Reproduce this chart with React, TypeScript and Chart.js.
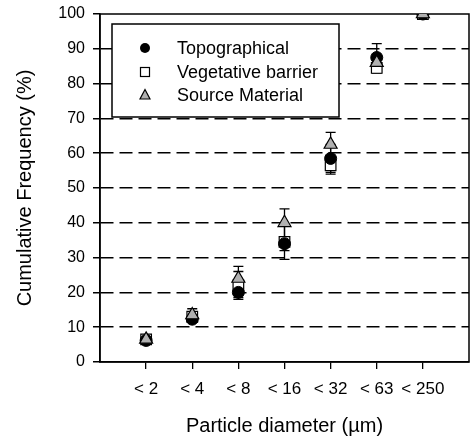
import React, { useEffect, useRef } from "react";
import { Chart, registerables } from "chart.js";

Chart.register(...registerables);

const categories = ["< 2", "< 4", "< 8", "< 16", "< 32", "< 63", "< 250"];
const seriesLabels = ["Topographical", "Vegetative barrier", "Source Material"];
const topographical = [6.2, 12.3, 20, 34, 58.5, 87.5, 100];
const topographicalErr = [0.5, 0.8, 1.5, 2, 4, 4, 0];
const vegetative = [6.5, 13, 22, 34.5, 56.5, 84.5, 100];
const vegetativeErr = [0.5, 1.2, 4, 5, 2.5, 1.5, 0];
const sourceMaterial = [6.5, 13.5, 24, 40, 62.5, 86, 100];
const sourceMaterialErr = [0.5, 1.8, 3.5, 4, 3.5, 1.5, 0];
const yMin = 0;
const yMax = 100;
const yStep = 10;

const FONT = "'Liberation Sans', Arial, Helvetica, sans-serif";
const TRI_FILL = "#b0b0b0";

const toPoints = (vals: number[]) => vals.map((v, i) => ({ x: i + 1, y: v }));

const errorBarPlugin = {
  id: "errorBars",
  beforeDatasetsDraw(chart: any) {
    const ctx = chart.ctx;
    const yScale = chart.scales.y;
    ctx.save();
    ctx.strokeStyle = "#000";
    ctx.lineWidth = 1.3;
    chart.data.datasets.forEach((ds: any, di: number) => {
      const meta = chart.getDatasetMeta(di);
      const errs: number[] = ds.errors || [];
      meta.data.forEach((pt: any, j: number) => {
        const e = errs[j];
        if (!e) return;
        const v = ds.data[j].y;
        const yTop = yScale.getPixelForValue(v + e);
        const yBot = yScale.getPixelForValue(v - e);
        const x = pt.x;
        ctx.beginPath();
        ctx.moveTo(x, yTop);
        ctx.lineTo(x, yBot);
        ctx.moveTo(x - 5, yTop);
        ctx.lineTo(x + 5, yTop);
        ctx.moveTo(x - 5, yBot);
        ctx.lineTo(x + 5, yBot);
        ctx.stroke();
      });
    });
    ctx.restore();
  },
};

const framePlugin = {
  id: "frame",
  beforeDatasetsDraw(chart: any) {
    const { ctx, chartArea } = chart;
    ctx.save();
    ctx.strokeStyle = "#000";
    ctx.lineWidth = 1.5;
    ctx.strokeRect(chartArea.left, chartArea.top, chartArea.right - chartArea.left, chartArea.bottom - chartArea.top);
    ctx.restore();
  },
};

const legendPlugin = {
  id: "boxLegend",
  afterDraw(chart: any) {
    const { ctx, chartArea } = chart;
    const left = chartArea.left + 12;
    const top = chartArea.top + 10;
    const w = 227;
    const h = 93;
    ctx.save();
    ctx.fillStyle = "#fff";
    ctx.fillRect(left, top, w, h);
    ctx.strokeStyle = "#000";
    ctx.lineWidth = 1.5;
    ctx.strokeRect(left, top, w, h);
    const mx = left + 33;
    const tx = left + 65;
    const rows = [top + 24, top + 48, top + 71];
    ctx.font = `18px ${FONT}`;
    ctx.textBaseline = "middle";
    ctx.textAlign = "left";
    rows.forEach((ry, i) => {
      ctx.lineWidth = 1.2;
      ctx.strokeStyle = "#000";
      if (i === 0) {
        ctx.fillStyle = "#000";
        ctx.beginPath();
        ctx.arc(mx, ry, 5, 0, Math.PI * 2);
        ctx.fill();
      } else if (i === 1) {
        ctx.fillStyle = "#fff";
        ctx.fillRect(mx - 4.5, ry - 4.5, 9, 9);
        ctx.strokeRect(mx - 4.5, ry - 4.5, 9, 9);
      } else {
        ctx.fillStyle = TRI_FILL;
        ctx.beginPath();
        ctx.moveTo(mx, ry - 5.5);
        ctx.lineTo(mx + 5, ry + 4);
        ctx.lineTo(mx - 5, ry + 4);
        ctx.closePath();
        ctx.fill();
        ctx.stroke();
      }
      ctx.fillStyle = "#000";
      ctx.fillText(seriesLabels[i], tx, ry + 1);
    });
    ctx.restore();
  },
};

export default function App() {
  const ref = useRef<HTMLCanvasElement>(null);
  useEffect(() => {
    document.body.style.margin = "0";
    const chart = new Chart(ref.current as HTMLCanvasElement, {
      type: "scatter",
      data: {
        datasets: [
          {
            label: seriesLabels[2],
            data: toPoints(sourceMaterial),
            errors: sourceMaterialErr,
            pointStyle: "triangle",
            pointRadius: 7.5,
            backgroundColor: TRI_FILL,
            borderColor: "#000",
            borderWidth: 1.2,
            order: 0,
          } as any,
          {
            label: seriesLabels[0],
            data: toPoints(topographical),
            errors: topographicalErr,
            pointStyle: "circle",
            pointRadius: 6,
            backgroundColor: "#000",
            borderColor: "#000",
            borderWidth: 1,
            order: 1,
          } as any,
          {
            label: seriesLabels[1],
            data: toPoints(vegetative),
            errors: vegetativeErr,
            pointStyle: "rect",
            pointRadius: 7.5,
            backgroundColor: "#fff",
            borderColor: "#000",
            borderWidth: 1.2,
            order: 2,
          } as any,
        ],
      },
      options: {
        responsive: false,
        animation: false,
        events: [],
        layout: { autoPadding: false, padding: { top: 14, right: 2, left: 0, bottom: 0 } },
        plugins: {
          legend: { display: false },
          tooltip: { enabled: false },
        },
        scales: {
          x: {
            type: "linear",
            min: 0,
            max: categories.length + 1,
            afterBuildTicks: (scale: any) => {
              scale.ticks = categories.map((_, i) => ({ value: i + 1 }));
            },
            afterFit: (scale: any) => {
              scale.height = 82;
              scale.paddingLeft = 0;
              scale.paddingRight = 0;
            },
            ticks: {
              autoSkip: false,
              maxRotation: 0,
              padding: 10,
              color: "#000",
              font: { family: FONT, size: 17 },
              callback: (v: any) => categories[Math.round(Number(v)) - 1] ?? "",
            },
            grid: { drawOnChartArea: false, drawTicks: true, tickLength: 7, color: "#000", lineWidth: 1.3 },
            border: { display: true, color: "#000", width: 1.5 },
            title: {
              display: true,
              text: "Particle diameter (µm)",
              color: "#000",
              font: { family: FONT, size: 20 },
              padding: { top: 0, bottom: 6 },
            },
          },
          y: {
            type: "linear",
            min: yMin,
            max: yMax,
            afterFit: (scale: any) => {
              scale.width = 100;
              scale.paddingTop = 0;
              scale.paddingBottom = 0;
            },
            ticks: {
              stepSize: yStep,
              padding: 8,
              color: "#000",
              font: { family: FONT, size: 16 },
            },
            grid: {
              drawTicks: true,
              tickLength: 7,
              lineWidth: 1.5,
              tickColor: "#000",
              color: (c: any) =>
                c.tick && (c.tick.value === yMin || c.tick.value === yMax) ? "rgba(0,0,0,0)" : "#000",
            },
            border: { display: true, color: "#000", width: 1.5, dash: [13, 6] },
            title: {
              display: true,
              text: "Cumulative Frequency (%)",
              color: "#000",
              font: { family: FONT, size: 20 },
              padding: { top: 13, bottom: 0 },
            },
          },
        },
      },
      plugins: [errorBarPlugin, framePlugin, legendPlugin],
    } as any);
    return () => chart.destroy();
  }, []);
  return (
    <div style={{ position: "fixed", left: 0, top: 0, width: 471, height: 444 }}>
      <canvas ref={ref} width={471} height={444} />
    </div>
  );
}
